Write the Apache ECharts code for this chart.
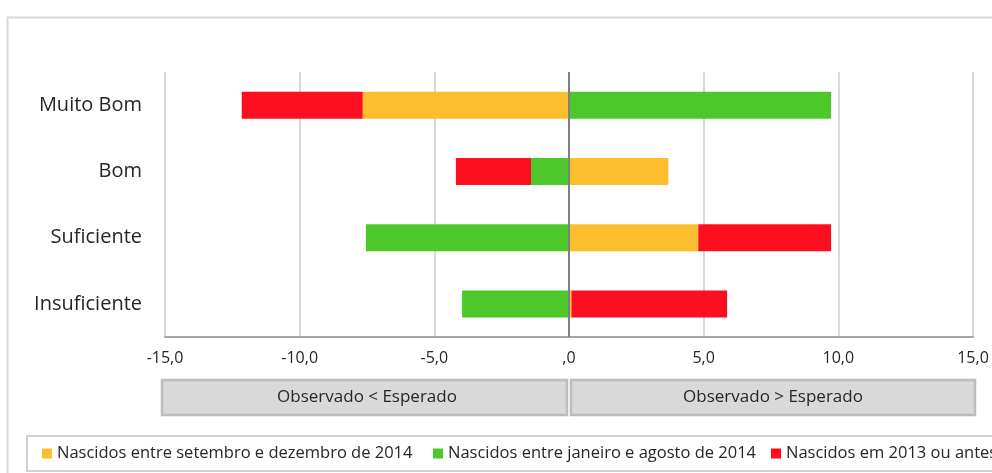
<!DOCTYPE html>
<html>
<head>
<meta charset="utf-8">
<script src="https://cdn.jsdelivr.net/npm/echarts@6/dist/echarts.min.js"></script>
<style>
html,body{margin:0;padding:0;background:#fff;}
#chart{width:992px;height:473px;}
</style>
</head>
<body>
<div id="chart"></div>
<script>
const categories = ['Muito Bom', 'Bom', 'Suficiente', 'Insuficiente'];
const seriesNames = ['Nascidos entre setembro e dezembro de 2014', 'Nascidos entre janeiro e agosto de 2014', 'Nascidos em 2013 ou antes'];
const setDez2014 = [-7.66, 3.69, 4.80, 0.09];
const janAgo2014 = [9.73, -1.41, -7.54, -3.97];
const ate2013 = [-4.49, -2.79, 4.93, 5.78];
const xTicks = [-15, -10, -5, 0, 5, 10, 15];
const groupLabels = ['Observado < Esperado', 'Observado > Esperado'];

const colors = ['#FDBE2D', '#4CC82B', '#FD0E1F'];
const FONT = 'Open Sans';
const legendLefts = [42, 433, 771];

function fmt(v) {
  if (v === 0) return ',0';
  return v.toFixed(1).replace('.', ',');
}

const chart = echarts.init(document.getElementById('chart'));
const seriesData = [setDez2014, janAgo2014, ate2013];

const option = {
  animation: false,
  textStyle: { fontFamily: FONT },
  grid: { left: 165, right: 19, top: 72, bottom: 136, containLabel: false },
  legend: seriesNames.map((n, i) => ({
    left: legendLefts[i], top: 445, padding: 0,
    itemWidth: 10, itemHeight: 10,
    icon: 'rect',
    textStyle: { fontFamily: FONT, fontSize: 16.5, color: '#262626' },
    data: [n]
  })),
  xAxis: {
    type: 'value', min: xTicks[0], max: xTicks[xTicks.length - 1], interval: 5,
    axisLine: { show: true, lineStyle: { color: '#a6a6a6', width: 2 } },
    axisTick: { show: false },
    splitLine: { show: true, lineStyle: { color: '#d9d9d9', width: 2 } },
    axisLabel: { formatter: fmt, fontFamily: FONT, fontSize: 16, color: '#262626', margin: 13 }
  },
  yAxis: {
    type: 'category', data: categories, inverse: true,
    axisLine: { show: false, onZero: false },
    axisTick: { show: false },
    axisLabel: { fontFamily: FONT, fontSize: 20, color: '#262626', margin: 23 }
  },
  series: seriesNames.map((n, i) => ({
    name: n, type: 'bar', stack: 'total', barWidth: 27,
    data: seriesData[i],
    itemStyle: { color: colors[i] },
    markLine: i === 0 ? {
      silent: true, symbol: 'none', label: { show: false },
      lineStyle: { color: '#7f7f7f', width: 2, type: 'solid' },
      data: [{ xAxis: 0 }]
    } : undefined
  }))
};
chart.setOption(option);

const xL = chart.convertToPixel({ xAxisIndex: 0 }, xTicks[0]);
const x0 = chart.convertToPixel({ xAxisIndex: 0 }, 0);
const xR = chart.convertToPixel({ xAxisIndex: 0 }, xTicks[xTicks.length - 1]);
const boxTop = 380, boxH = 35;
chart.setOption({
  graphic: [
    { type: 'rect', left: 5, top: 15, shape: { x: 0, y: 0, width: 1100, height: 600 }, style: { fill: 'none', stroke: '#d9d9d9', lineWidth: 2 }, silent: true, z: -1 },
    { type: 'rect', shape: { x: 27, y: 436, width: 1100, height: 35 }, style: { fill: 'none', stroke: '#d0d0d0', lineWidth: 2 }, silent: true },
    { type: 'rect', shape: { x: xL - 3, y: boxTop, width: x0 - xL + 1, height: boxH }, style: { fill: '#d9d9d9', stroke: '#bcbcbc', lineWidth: 2.5 }, silent: true },
    { type: 'rect', shape: { x: x0 + 2, y: boxTop, width: xR - x0, height: boxH }, style: { fill: '#d9d9d9', stroke: '#bcbcbc', lineWidth: 2.5 }, silent: true },
    { type: 'text', x: (xL + x0) / 2, y: boxTop + boxH / 2, style: { text: groupLabels[0], fontFamily: FONT, fontSize: 17, fill: '#262626', align: 'center', verticalAlign: 'middle' }, silent: true },
    { type: 'text', x: (x0 + xR) / 2 + 2, y: boxTop + boxH / 2, style: { text: groupLabels[1], fontFamily: FONT, fontSize: 17, fill: '#262626', align: 'center', verticalAlign: 'middle' }, silent: true }
  ]
});
</script>
</body>
</html>
